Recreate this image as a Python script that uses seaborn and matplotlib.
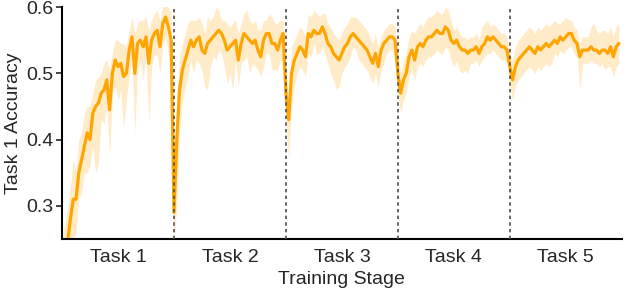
import numpy as np
import pandas as pd
import matplotlib
matplotlib.use("Agg")
import matplotlib.pyplot as plt
import seaborn as sns

# ---- data (smoothed accuracy per task, 40 checkpoints each) ----
task_names = ["Task 1", "Task 2", "Task 3", "Task 4", "Task 5"]

acc_task1 = [0.22, 0.235, 0.245, 0.28, 0.31, 0.31, 0.35, 0.37, 0.39, 0.41,
             0.40, 0.44, 0.45, 0.455, 0.47, 0.475, 0.49, 0.445, 0.50, 0.52,
             0.51, 0.515, 0.495, 0.50, 0.535, 0.555, 0.50, 0.545, 0.55, 0.54,
             0.555, 0.515, 0.55, 0.56, 0.565, 0.54, 0.575, 0.585, 0.57, 0.55]
acc_task2 = [0.29, 0.40, 0.475, 0.505, 0.52, 0.535, 0.55, 0.54, 0.55, 0.555,
             0.535, 0.53, 0.545, 0.55, 0.555, 0.56, 0.565, 0.56, 0.55, 0.535,
             0.54, 0.545, 0.55, 0.52, 0.545, 0.56, 0.555, 0.55, 0.545, 0.55,
             0.535, 0.525, 0.55, 0.56, 0.56, 0.545, 0.545, 0.535, 0.55, 0.56]
acc_task3 = [0.47, 0.43, 0.50, 0.52, 0.53, 0.54, 0.535, 0.525, 0.56, 0.555,
             0.565, 0.56, 0.56, 0.57, 0.56, 0.545, 0.54, 0.53, 0.525, 0.52,
             0.53, 0.54, 0.545, 0.555, 0.56, 0.555, 0.55, 0.545, 0.54, 0.535,
             0.525, 0.515, 0.53, 0.51, 0.535, 0.545, 0.55, 0.555, 0.555, 0.55]
acc_task4 = [0.50, 0.47, 0.49, 0.50, 0.525, 0.535, 0.52, 0.54, 0.545, 0.54,
             0.55, 0.555, 0.555, 0.56, 0.565, 0.56, 0.56, 0.57, 0.565, 0.55,
             0.545, 0.55, 0.54, 0.535, 0.535, 0.53, 0.535, 0.535, 0.54, 0.53,
             0.54, 0.545, 0.555, 0.55, 0.555, 0.55, 0.545, 0.54, 0.54, 0.535]
acc_task5 = [0.51, 0.49, 0.51, 0.52, 0.525, 0.53, 0.535, 0.54, 0.535, 0.53,
             0.54, 0.535, 0.54, 0.545, 0.54, 0.545, 0.55, 0.545, 0.555, 0.55,
             0.555, 0.56, 0.56, 0.55, 0.545, 0.525, 0.535, 0.535, 0.535, 0.54,
             0.535, 0.535, 0.53, 0.535, 0.535, 0.53, 0.54, 0.525, 0.54, 0.545]

# spread of the raw (unsmoothed) accuracy above / below the smoothed curve
up_task1 = [0.03, 0.04, 0.05, 0.05, 0.06, 0.04, 0.05, 0.04, 0.05, 0.04,
            0.05, 0.03, 0.04, 0.04, 0.03, 0.04, 0.03, 0.06, 0.03, 0.03,
            0.04, 0.03, 0.05, 0.04, 0.03, 0.03, 0.06, 0.03, 0.03, 0.04,
            0.03, 0.05, 0.03, 0.03, 0.03, 0.04, 0.03, 0.02, 0.03, 0.04]
lo_task1 = [0.03, 0.04, 0.05, 0.05, 0.06, 0.05, 0.04, 0.05, 0.04, 0.06,
            0.04, 0.05, 0.10, 0.09, 0.04, 0.05, 0.04, 0.07, 0.03, 0.04,
            0.05, 0.04, 0.08, 0.04, 0.04, 0.03, 0.09, 0.04, 0.03, 0.05,
            0.03, 0.09, 0.04, 0.03, 0.04, 0.04, 0.03, 0.03, 0.04, 0.05]
up_task2 = [0.02, 0.06, 0.05, 0.04, 0.04, 0.04, 0.03, 0.04, 0.03, 0.03,
            0.04, 0.03, 0.04, 0.03, 0.03, 0.04, 0.03, 0.02, 0.03, 0.04,
            0.03, 0.03, 0.03, 0.04, 0.03, 0.03, 0.04, 0.03, 0.03, 0.03,
            0.03, 0.04, 0.03, 0.02, 0.03, 0.04, 0.03, 0.04, 0.03, 0.02]
lo_task2 = [0.05, 0.10, 0.06, 0.05, 0.04, 0.04, 0.03, 0.04, 0.03, 0.04,
            0.03, 0.05, 0.07, 0.04, 0.03, 0.04, 0.03, 0.03, 0.04, 0.05,
            0.04, 0.07, 0.03, 0.04, 0.03, 0.04, 0.03, 0.05, 0.03, 0.04,
            0.03, 0.03, 0.04, 0.03, 0.03, 0.04, 0.04, 0.03, 0.03, 0.04]
up_task3 = [0.03, 0.03, 0.04, 0.03, 0.03, 0.03, 0.03, 0.03, 0.03, 0.03,
            0.03, 0.03, 0.025, 0.02, 0.03, 0.03, 0.03, 0.03, 0.03, 0.03,
            0.03, 0.03, 0.03, 0.03, 0.025, 0.03, 0.03, 0.03, 0.03, 0.03,
            0.03, 0.03, 0.03, 0.03, 0.02, 0.02, 0.02, 0.02, 0.02, 0.02]
lo_task3 = [0.04, 0.06, 0.05, 0.04, 0.03, 0.03, 0.03, 0.03, 0.03, 0.03,
            0.02, 0.03, 0.03, 0.03, 0.03, 0.03, 0.04, 0.04, 0.05, 0.04,
            0.03, 0.03, 0.03, 0.03, 0.02, 0.02, 0.03, 0.03, 0.03, 0.03,
            0.03, 0.03, 0.03, 0.03, 0.03, 0.03, 0.02, 0.02, 0.02, 0.03]
up_task4 = [0.03, 0.03, 0.03, 0.03, 0.03, 0.03, 0.04, 0.03, 0.03, 0.03,
            0.03, 0.03, 0.03, 0.03, 0.03, 0.03, 0.03, 0.03, 0.03, 0.03,
            0.02, 0.02, 0.02, 0.02, 0.02, 0.02, 0.02, 0.02, 0.02, 0.02,
            0.03, 0.03, 0.025, 0.02, 0.02, 0.02, 0.02, 0.02, 0.02, 0.02]
lo_task4 = [0.03, 0.03, 0.03, 0.03, 0.03, 0.03, 0.03, 0.03, 0.03, 0.03,
            0.03, 0.03, 0.03, 0.03, 0.03, 0.03, 0.03, 0.03, 0.03, 0.03,
            0.035, 0.03, 0.035, 0.035, 0.03, 0.03, 0.02, 0.02, 0.02, 0.02,
            0.02, 0.02, 0.025, 0.02, 0.02, 0.02, 0.02, 0.02, 0.02, 0.02]
up_task5 = [0.02, 0.03, 0.03, 0.03, 0.03, 0.03, 0.03, 0.03, 0.03, 0.03,
            0.03, 0.03, 0.03, 0.03, 0.03, 0.03, 0.03, 0.03, 0.02, 0.03,
            0.03, 0.02, 0.02, 0.02, 0.02, 0.02, 0.02, 0.02, 0.02, 0.03,
            0.04, 0.03, 0.03, 0.03, 0.03, 0.03, 0.03, 0.03, 0.03, 0.03]
lo_task5 = [0.03, 0.03, 0.03, 0.03, 0.03, 0.03, 0.03, 0.03, 0.03, 0.03,
            0.03, 0.03, 0.03, 0.03, 0.03, 0.03, 0.02, 0.02, 0.02, 0.02,
            0.02, 0.02, 0.02, 0.02, 0.02, 0.05, 0.02, 0.02, 0.02, 0.02,
            0.02, 0.02, 0.02, 0.02, 0.03, 0.02, 0.03, 0.03, 0.03, 0.03]

acc_all = [acc_task1, acc_task2, acc_task3, acc_task4, acc_task5]
up_all = [up_task1, up_task2, up_task3, up_task4, up_task5]
lo_all = [lo_task1, lo_task2, lo_task3, lo_task4, lo_task5]

# ---- build long table ----
rows = []
n_per_task = len(acc_task1)
for k, (acc, up, lo) in enumerate(zip(acc_all, up_all, lo_all)):
    for i, (a, u, l) in enumerate(zip(acc, up, lo)):
        rows.append({"step": k * n_per_task + i, "acc": a,
                     "upper": a + u, "lower": a - l})
df = pd.DataFrame(rows)
n_total = len(task_names) * n_per_task

# ---- plot ----
sns.set_style("ticks")
plt.rcParams["font.family"] = ["Liberation Sans", "DejaVu Sans"]

fig = plt.figure(figsize=(6.24, 2.92), dpi=100)
ax = fig.add_axes([0.0994, 0.1815, 0.897, 0.7945])

ax.fill_between(df["step"], df["lower"], df["upper"],
                color="orange", alpha=0.22, linewidth=0)
sns.lineplot(data=df, x="step", y="acc", ax=ax, color="orange",
             linewidth=2.3, errorbar=None)

for k in range(1, len(task_names)):
    ax.axvline(k * n_per_task, color="0.3", linestyle=(0, (2.0, 2.0)),
               linewidth=1.2, zorder=3)

fs = 14
ax.set_xlim(0, n_total)
ax.set_ylim(0.25, 0.6)
ax.set_yticks([0.3, 0.4, 0.5, 0.6])
ax.set_yticklabels(["0.3", "0.4", "0.5", "0.6"])
ax.set_xticks([(k + 0.5) * n_per_task for k in range(len(task_names))])
ax.set_xticklabels(task_names)
ax.tick_params(axis="x", length=0, labelsize=fs, pad=7)
ax.tick_params(axis="y", length=4, width=1.2, labelsize=fs, pad=2)
ax.set_xlabel("Training Stage", fontsize=fs, labelpad=4)
ax.set_ylabel("Task 1 Accuracy", fontsize=fs, labelpad=3)
for side in ["top", "right"]:
    ax.spines[side].set_visible(False)
for side in ["left", "bottom"]:
    ax.spines[side].set_linewidth(1.5)
    ax.spines[side].set_color("black")

fig.savefig("out.png", dpi=100)
